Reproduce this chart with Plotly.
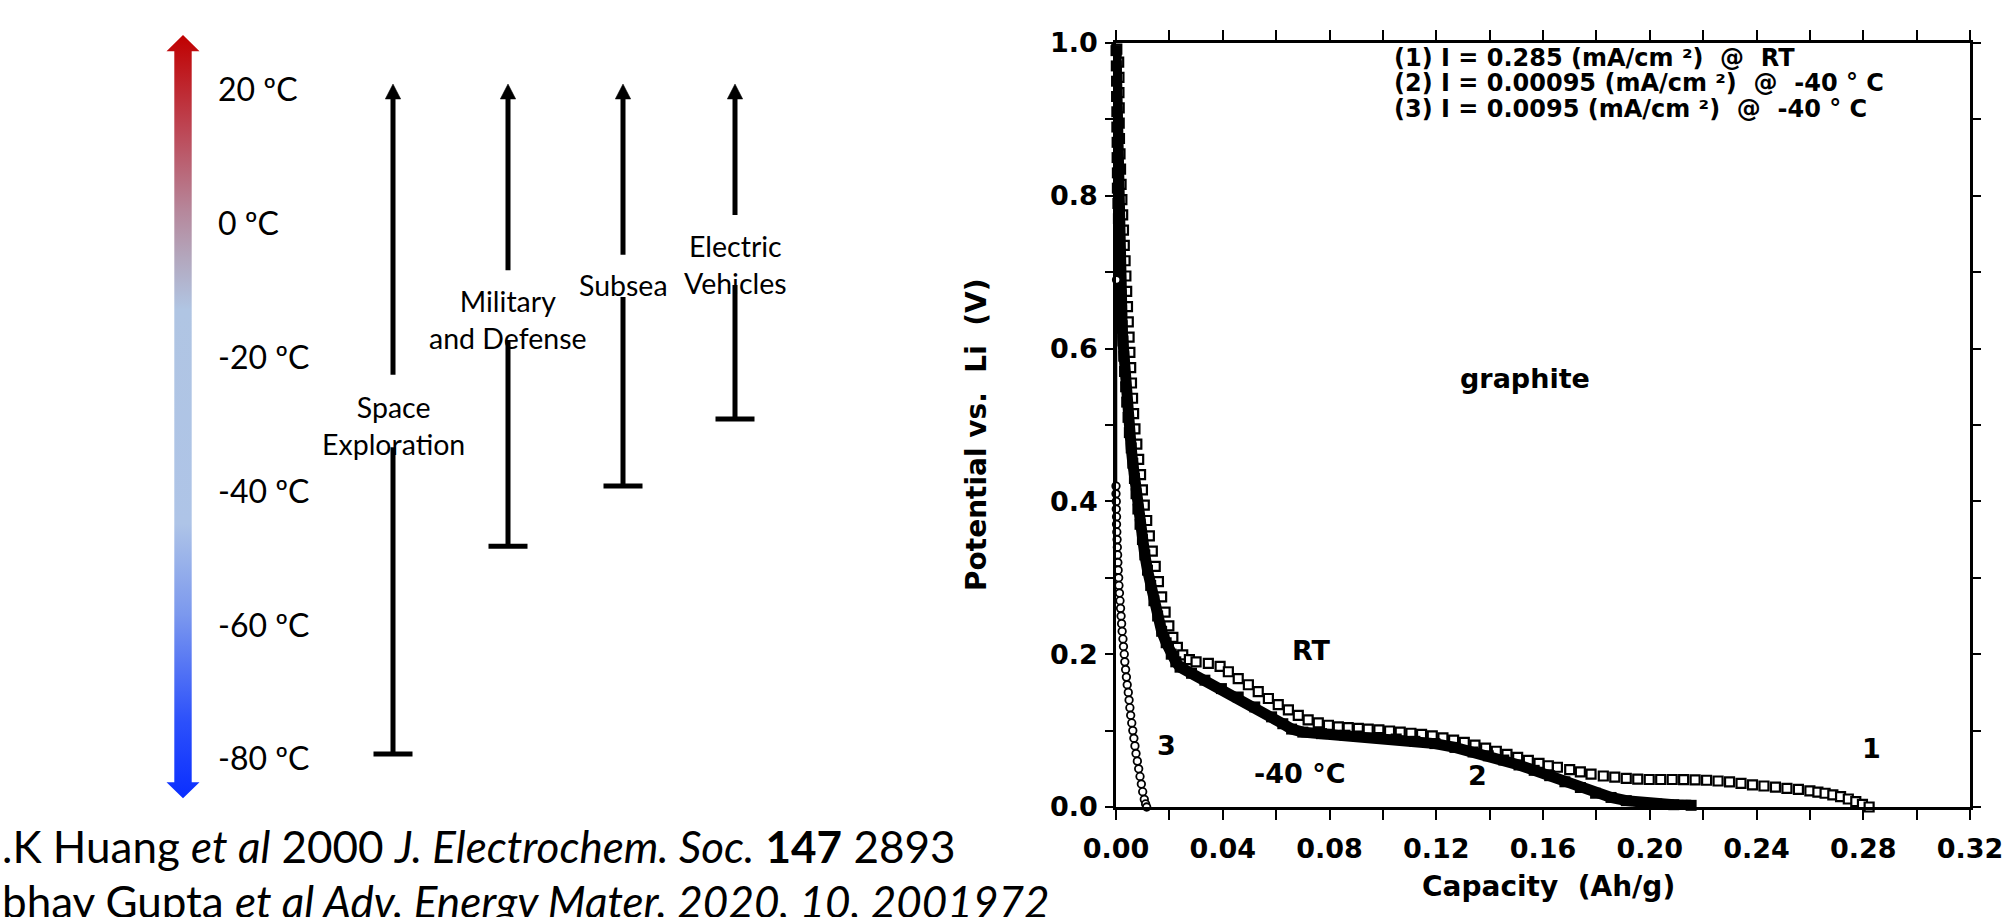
import plotly.graph_objects as go

W, H = 2008, 917

# ---------------- left panel: operating temperatures ----------------
temp_ticks = [20, 0, -20, -40, -60, -80]
temp_labels = ["20 ºC", "0 ºC", "-20 ºC", "-40 ºC", "-60 ºC", "-80 ºC"]
applications = ["Space<br>Exploration", "Military<br>and Defense", "Subsea", "Electric<br>Vehicles"]
app_min_temp = [-80, -49, -40, -30]
app_max_temp = [20, 20, 20, 20]

# ---------------- right panel: graphite discharge curves ----------------
rt_cap = [0.0003, 0.0010, 0.0011, 0.0011, 0.0012, 0.0012, 0.0013, 0.0015, 0.0017, 0.0019,
          0.0022, 0.0025, 0.0028, 0.0031, 0.0034, 0.0037, 0.0040, 0.0043, 0.0046, 0.0049,
          0.0052, 0.0055, 0.0058, 0.0062, 0.0066, 0.0071, 0.0078, 0.0085, 0.0092, 0.0099,
          0.0106, 0.0115, 0.0125, 0.0136, 0.0147, 0.0159, 0.0171, 0.0184, 0.0198, 0.0213,
          0.0230, 0.0250, 0.0275, 0.0300, 0.0346, 0.0390, 0.0421, 0.0458, 0.0496, 0.0533,
          0.0571, 0.0608, 0.0646, 0.0683, 0.0720, 0.0758, 0.0796, 0.0833, 0.0870, 0.0908,
          0.0945, 0.0985, 0.1025, 0.1065, 0.1105, 0.1145, 0.1185, 0.1225, 0.1265, 0.1305,
          0.1345, 0.1385, 0.1425, 0.1465, 0.1505, 0.1545, 0.1585, 0.1620, 0.1654, 0.1700,
          0.1740, 0.1780, 0.1826, 0.1869, 0.1912, 0.1955, 0.1998, 0.2041, 0.2084, 0.2127,
          0.2170, 0.2213, 0.2256, 0.2299, 0.2342, 0.2385, 0.2428, 0.2471, 0.2514, 0.2557,
          0.2600, 0.2630, 0.2657, 0.2686, 0.2715, 0.2744, 0.2772, 0.2797, 0.2822]
rt_pot = [0.992, 0.975, 0.955, 0.935, 0.915, 0.895, 0.875, 0.855, 0.835, 0.815,
          0.795, 0.775, 0.755, 0.735, 0.715, 0.695, 0.675, 0.655, 0.635, 0.615,
          0.595, 0.575, 0.555, 0.535, 0.515, 0.495, 0.475, 0.455, 0.435, 0.415,
          0.395, 0.375, 0.355, 0.335, 0.315, 0.295, 0.275, 0.255, 0.237, 0.222,
          0.209, 0.199, 0.193, 0.190, 0.188, 0.184, 0.177, 0.168, 0.160, 0.151,
          0.142, 0.134, 0.127, 0.120, 0.114, 0.110, 0.107, 0.105, 0.104, 0.103,
          0.102, 0.101, 0.0995, 0.098, 0.0965, 0.095, 0.093, 0.0905, 0.0875, 0.0845,
          0.081, 0.077, 0.073, 0.069, 0.065, 0.061, 0.057, 0.054, 0.052, 0.049,
          0.046, 0.043, 0.0406, 0.039, 0.0375, 0.0365, 0.036, 0.036, 0.036, 0.0358,
          0.0355, 0.035, 0.034, 0.033, 0.031, 0.029, 0.0275, 0.026, 0.0245, 0.023,
          0.021, 0.0195, 0.018, 0.016, 0.0135, 0.0105, 0.007, 0.0035, 0.000]

low_cap = [0.0000, 0.0001, 0.0002, 0.0002, 0.0003, 0.0003, 0.0004, 0.0004, 0.0005, 0.0005,
           0.0007, 0.0009, 0.0011, 0.0013, 0.0015, 0.0017, 0.0019, 0.0021, 0.0023, 0.0026,
           0.0029, 0.0032, 0.0036, 0.0040, 0.0045, 0.0050, 0.0057, 0.0063, 0.0069, 0.0075,
           0.0082, 0.0090, 0.0099, 0.0108, 0.0118, 0.0130, 0.0142, 0.0156, 0.0171, 0.0188,
           0.0207, 0.0224, 0.0240, 0.0283, 0.0333, 0.0395, 0.0458, 0.0520, 0.0583, 0.0625,
           0.0658, 0.0700, 0.0770, 0.0858, 0.0907, 0.0980, 0.1050, 0.1120, 0.1195, 0.1270,
           0.1338, 0.1395, 0.1453, 0.1510, 0.1567, 0.1625, 0.1682, 0.1740, 0.1797, 0.1855,
           0.1912, 0.1970, 0.2026, 0.2090, 0.2155]
low_pot = [0.990, 0.970, 0.950, 0.930, 0.910, 0.890, 0.870, 0.850, 0.830, 0.810,
           0.790, 0.770, 0.750, 0.730, 0.710, 0.690, 0.670, 0.650, 0.630, 0.610,
           0.590, 0.570, 0.550, 0.530, 0.510, 0.490, 0.470, 0.450, 0.430, 0.410,
           0.390, 0.370, 0.350, 0.330, 0.310, 0.290, 0.270, 0.250, 0.230, 0.215,
           0.200, 0.190, 0.183, 0.175, 0.166, 0.155, 0.144, 0.131, 0.118, 0.109,
           0.102, 0.098, 0.096, 0.094, 0.093, 0.091, 0.089, 0.086, 0.083, 0.078,
           0.072, 0.067, 0.0615, 0.055, 0.048, 0.041, 0.033, 0.0255, 0.018, 0.0125,
           0.0083, 0.0058, 0.0039, 0.0030, 0.0022]

fast_cap = [0.0002, 0.0000, 0.0000, 0.0001, 0.0001, 0.0002, 0.0002, 0.0003, 0.0004, 0.0005,
            0.0006, 0.0007, 0.0008, 0.0010, 0.0011, 0.0013, 0.0015, 0.0017, 0.0019, 0.0021,
            0.0023, 0.0026, 0.0028, 0.0031, 0.0033, 0.0036, 0.0039, 0.0042, 0.0046, 0.0049,
            0.0052, 0.0055, 0.0059, 0.0063, 0.0067, 0.0071, 0.0075, 0.0080, 0.0085, 0.0090,
            0.0095, 0.0100, 0.0106, 0.0111, 0.0115]
fast_pot = [0.690, 0.420, 0.410, 0.400, 0.390, 0.380, 0.370, 0.360, 0.350, 0.340,
            0.330, 0.320, 0.310, 0.300, 0.290, 0.280, 0.270, 0.260, 0.250, 0.240,
            0.230, 0.220, 0.210, 0.200, 0.190, 0.180, 0.170, 0.160, 0.150, 0.140,
            0.130, 0.120, 0.110, 0.100, 0.090, 0.080, 0.070, 0.060, 0.050, 0.040,
            0.030, 0.020, 0.010, 0.004, 0.000]

legend_lines = ["(1) I = 0.285 (mA/cm ²)  @  RT",
                "(2) I = 0.00095 (mA/cm ²)  @  -40 ° C",
                "(3) I = 0.0095 (mA/cm ²)  @  -40 ° C"]

# ---------------- layout constants ----------------
PX_PER_DEG = 6.7
T_BOTTOM, T_TOP = -104.33, 32.54          # temperature axis spanning the full page height
PL, PR, PT, PB = 1116, 1970, 43, 807        # graph plot area in pixels

app_x = [393, 508, 623, 735]
app_label_T = [-30.9, -15.2, -10.0, -6.9]
app_gap = [(-23.4, -34.2), (-7.8, -18.2), (-5.5, -11.8), (0.45, -10.0)]
head_h = 15 / PX_PER_DEG
head_half = 7.7
bar_half = 19.5

ARROW_X = 183
ARROW_SHAFT = 8.7
ARROW_HEAD = 16.5
T_TIP_TOP, T_BASE_TOP, T_BASE_BOT, T_TIP_BOT = 27.3, 24.9, -84.2, -86.6

SANS = "Lato"
GRAPH_FONT = "DejaVu Sans"

fig = go.Figure()

# gradient temperature arrow
ax_ = [ARROW_X, ARROW_X + ARROW_HEAD, ARROW_X + ARROW_SHAFT, ARROW_X + ARROW_SHAFT,
       ARROW_X + ARROW_HEAD, ARROW_X, ARROW_X - ARROW_HEAD, ARROW_X - ARROW_SHAFT,
       ARROW_X - ARROW_SHAFT, ARROW_X - ARROW_HEAD, ARROW_X]
ay_ = [T_TIP_BOT, T_BASE_BOT, T_BASE_BOT, T_BASE_TOP, T_BASE_TOP, T_TIP_TOP,
       T_BASE_TOP, T_BASE_TOP, T_BASE_BOT, T_BASE_BOT, T_TIP_BOT]
fig.add_trace(go.Scatter(
    x=ax_, y=ay_, xaxis="x2", yaxis="y2", mode="lines", fill="toself",
    line=dict(width=0, color="rgba(0,0,0,0)"),
    fillgradient=dict(type="vertical", colorscale=[
        [0.0, "#0A2EFF"], [0.1, "#2C50FB"], [0.24, "#7B98EE"], [0.36, "#AEC4E7"],
        [0.64, "#B0C5E3"], [0.71, "#B3A6BC"], [0.77, "#B6879B"], [0.88, "#BD4452"],
        [1.0, "#C00000"]]),
    hoverinfo="skip", showlegend=False))

# application ranges
for x, tmin, tmax, (g_top, g_bot) in zip(app_x, app_min_temp, app_max_temp, app_gap):
    fig.add_trace(go.Scatter(x=[x, x], y=[tmax - head_h + 0.3, g_top], xaxis="x2", yaxis="y2",
                             mode="lines", line=dict(color="black", width=5),
                             hoverinfo="skip", showlegend=False))
    fig.add_trace(go.Scatter(x=[x, x], y=[g_bot, tmin], xaxis="x2", yaxis="y2",
                             mode="lines", line=dict(color="black", width=5),
                             hoverinfo="skip", showlegend=False))
    fig.add_trace(go.Scatter(x=[x - bar_half, x + bar_half], y=[tmin, tmin], xaxis="x2", yaxis="y2",
                             mode="lines", line=dict(color="black", width=5),
                             hoverinfo="skip", showlegend=False))
    fig.add_trace(go.Scatter(x=[x - head_half, x, x + head_half, x - head_half],
                             y=[tmax - head_h, tmax, tmax - head_h, tmax - head_h],
                             xaxis="x2", yaxis="y2", mode="lines", fill="toself",
                             fillcolor="black", line=dict(color="black", width=0.5),
                             hoverinfo="skip", showlegend=False))

# graph curves
fig.add_trace(go.Scatter(
    x=rt_cap, y=rt_pot, mode="markers", name="(1) RT",
    marker=dict(symbol="square", size=9, color="white", line=dict(color="black", width=2.2)),
    cliponaxis=False, showlegend=False))
fig.add_trace(go.Scatter(
    x=low_cap, y=low_pot, mode="lines+markers", name="(2) -40 °C",
    line=dict(color="black", width=11),
    marker=dict(symbol="square", size=11, color="black"),
    cliponaxis=False, showlegend=False))
fig.add_trace(go.Scatter(
    x=fast_cap, y=fast_pot, mode="lines+markers", name="(3) -40 °C",
    line=dict(color="black", width=1.5),
    marker=dict(symbol="circle", size=7.5, color="white", line=dict(color="black", width=1.8)),
    cliponaxis=False, showlegend=False))

annotations = []
# temperature labels
for t, lab in zip(temp_ticks, temp_labels):
    annotations.append(dict(x=216, y=t, xref="x2", yref="y2", text=lab, showarrow=False,
                            xanchor="left", yanchor="middle", yshift=-4,
                            font=dict(family=SANS, size=32, color="black")))
# application labels
for x, tl, lab in zip(app_x, app_label_T, applications):
    annotations.append(dict(x=x, y=tl, xref="x2", yref="y2", text=lab, showarrow=False,
                            xanchor="center", yanchor="middle",
                            font=dict(family=SANS, size=28.5, color="black")))
# citations
annotations.append(dict(x=0, y=1 - 846 / H, xref="paper", yref="paper", xanchor="left", yanchor="middle",
                        text=".K Huang <i>et al</i> 2000 <i>J. Electrochem. Soc.</i> <b>147</b> 2893",
                        showarrow=False, font=dict(family=SANS, size=44, color="black")))
annotations.append(dict(x=0, y=1 - 901 / H, xref="paper", yref="paper", xanchor="left", yanchor="middle",
                        text="bhay Gupta <i>et al Adv. Energy Mater. 2020, 10, 2001972</i>",
                        showarrow=False, font=dict(family=SANS, size=44, color="black")))

gfont = dict(family=GRAPH_FONT, size=27, color="black", weight="bold")
lfont = dict(family=GRAPH_FONT, size=24, color="black", weight="bold")
# legend text lines
for txt, yy in zip(legend_lines, [0.9804, 0.947, 0.9136]):
    annotations.append(dict(x=0.1034, y=yy, xref="x", yref="y", text=txt, showarrow=False,
                            xanchor="left", yanchor="middle", font=lfont))
# in-graph labels
for txt, xx, yy in [("graphite", 0.1533, 0.5615), ("RT", 0.0734, 0.2055), ("-40 °C", 0.069, 0.0445),
                    ("3", 0.0191, 0.081), ("2", 0.1356, 0.0406), ("1", 0.283, 0.076)]:
    annotations.append(dict(x=xx, y=yy, xref="x", yref="y", text=txt, showarrow=False,
                            xanchor="center", yanchor="middle", font=gfont))
# axis titles
tfont = dict(family=GRAPH_FONT, size=28, color="black", weight="bold")
annotations.append(dict(x=1548 / W, y=1 - 886 / H, xref="paper", yref="paper", text="Capacity  (Ah/g)",
                        showarrow=False, xanchor="center", yanchor="middle", font=tfont))
annotations.append(dict(x=976 / W, y=1 - 435 / H, xref="paper", yref="paper", text="Potential vs.  Li  (V)",
                        showarrow=False, xanchor="center", yanchor="middle", textangle=-90, font=tfont))

tickfont = dict(family=GRAPH_FONT, size=27, color="black", weight="bold")
fig.update_layout(
    width=W, height=H, margin=dict(l=0, r=0, t=0, b=0),
    paper_bgcolor="white", plot_bgcolor="rgba(0,0,0,0)", template="none",
    showlegend=False, annotations=annotations,
    xaxis=dict(domain=[PL / W, PR / W], range=[0, 0.32], tickmode="linear", tick0=0, dtick=0.04,
               tickformat=".2f", ticks="outside", ticklen=10, tickwidth=2, tickcolor="black",
               showline=True, linewidth=2.5, linecolor="black", mirror="allticks",
               showgrid=False, zeroline=False, tickfont=tickfont, ticklabelstandoff=6,
               minor=dict(dtick=0.02, ticks="outside", ticklen=10, tickwidth=2, tickcolor="black",
                          showgrid=False),
               automargin=False, anchor="y"),
    yaxis=dict(domain=[1 - PB / H, 1 - PT / H], range=[0, 1.0], tickmode="linear", tick0=0, dtick=0.2,
               tickformat=".1f", ticks="outside", ticklen=8, tickwidth=2, tickcolor="black",
               showline=True, linewidth=2.5, linecolor="black", mirror="allticks",
               showgrid=False, zeroline=False, tickfont=tickfont, ticklabelstandoff=2,
               minor=dict(dtick=0.1, ticks="outside", ticklen=8, tickwidth=2, tickcolor="black",
                          showgrid=False),
               automargin=False, anchor="x"),
    xaxis2=dict(domain=[0, 1], range=[0, W], visible=False, anchor="y2", fixedrange=True),
    yaxis2=dict(domain=[0, 1], range=[T_BOTTOM, T_TOP], visible=False, anchor="x2", fixedrange=True),
)

fig.write_html("out.html")
